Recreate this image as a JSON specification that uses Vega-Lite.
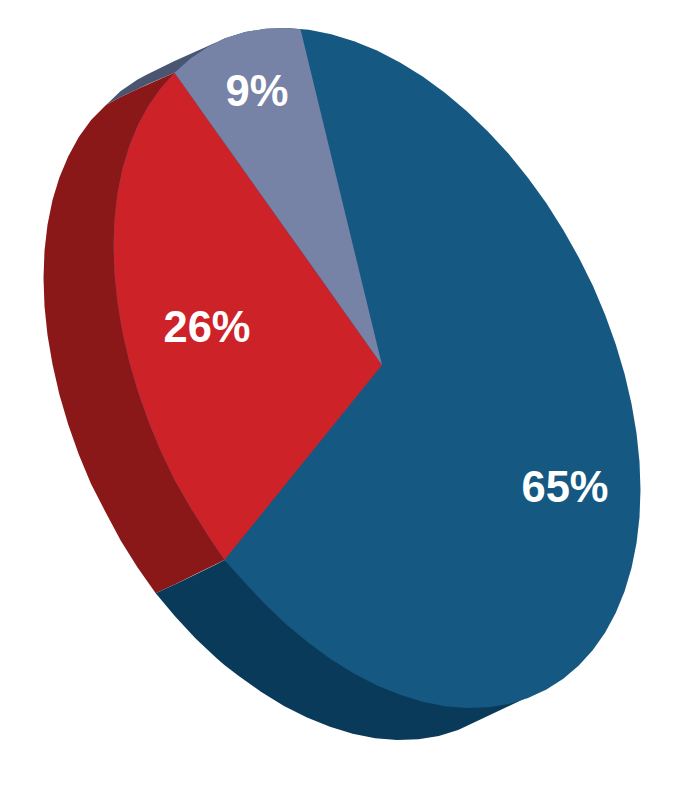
{"$schema":"https://vega.github.io/schema/vega-lite/v6.json","width":674,"height":800,"padding":0,"autosize":"none","background":"white","config":{"view":{"stroke":null}},"datasets":{
"sideGray":[{"x":106,"y":105,"y2":105},{"x":120.7,"y":91,"y2":97},{"x":137.6,"y":79.5,"y2":89},{"x":147,"y":74.5,"y2":84.5},{"x":174.5,"y":61,"y2":72.7},{"x":217,"y":42,"y2":42}],
"sideRed":[{"x":43.5,"y":278,"y2":278},{"x":44.5,"y":250.8,"y2":306.2},{"x":47.5,"y":224.8,"y2":335},{"x":52.5,"y":200.1,"y2":364.3},{"x":59.4,"y":177.5,"y2":394.5},{"x":68.2,"y":156.5,"y2":424.5},{"x":78.8,"y":137,"y2":454.5},{"x":91.1,"y":120,"y2":484},{"x":106,"y":105,"y2":513},{"x":120.7,"y":97,"y2":540.5},{"x":137.6,"y":89,"y2":567.5},{"x":155.7,"y":81,"y2":593.3},{"x":174.5,"y":72.7,"y2":584.5},{"x":224.4,"y":300,"y2":560}],
"sideBlue":[{"x":155.7,"y":593.3,"y2":593.3},{"x":175.2,"y":584.3,"y2":616.5},{"x":195.6,"y":574.5,"y2":638.5},{"x":216.9,"y":564,"y2":658.5},{"x":224.4,"y":560,"y2":665},{"x":238.8,"y":565,"y2":676},{"x":261.3,"y":574,"y2":692},{"x":284,"y":584,"y2":706},{"x":307,"y":594,"y2":717.6},{"x":330,"y":604,"y2":726.8},{"x":352.7,"y":614,"y2":733.8},{"x":375.2,"y":623.2,"y2":738.2},{"x":397.1,"y":632.8,"y2":740},{"x":418.4,"y":642.1,"y2":739.3},{"x":438.8,"y":651,"y2":735.9},{"x":458.1,"y":659.5,"y2":730},{"x":466.6,"y":663.2,"y2":726},{"x":530,"y":696,"y2":696}],
"faceBlue":[{"x":113.5,"y":246,"y2":246},{"x":114.5,"y":218.8,"y2":274.2},{"x":117.5,"y":192.8,"y2":303},{"x":122.5,"y":168.6,"y2":332.8},{"x":129.4,"y":145.5,"y2":362.5},{"x":138.2,"y":124.3,"y2":392.5},{"x":148.8,"y":105,"y2":422.5},{"x":161.1,"y":87.8,"y2":452},{"x":174.5,"y":72.7,"y2":480},{"x":190.7,"y":58.3,"y2":508},{"x":207.6,"y":47,"y2":535},{"x":224.4,"y":38.5,"y2":560},{"x":245.2,"y":32.1,"y2":583},{"x":265.6,"y":28.7,"y2":604.8},{"x":286.9,"y":28,"y2":625},{"x":308.8,"y":29.8,"y2":643},{"x":331.3,"y":34.2,"y2":659.4},{"x":354,"y":41.2,"y2":673.6},{"x":377,"y":50.6,"y2":685.4},{"x":400,"y":62.4,"y2":694.8},{"x":422.7,"y":76.6,"y2":701.8},{"x":445.2,"y":93,"y2":706.2},{"x":467.1,"y":111.4,"y2":708},{"x":488.4,"y":131.9,"y2":707.3},{"x":508.8,"y":154.1,"y2":703.9},{"x":528.1,"y":178,"y2":698},{"x":546.4,"y":203.3,"y2":689.5},{"x":563.3,"y":229.9,"y2":678.7},{"x":578.8,"y":257.5,"y2":665.5},{"x":592.9,"y":285.8,"y2":650},{"x":605.2,"y":315,"y2":632.4},{"x":615.8,"y":344.5,"y2":612.7},{"x":624.6,"y":374,"y2":591.2},{"x":631.5,"y":403.7,"y2":567.9},{"x":636.5,"y":433,"y2":543.2},{"x":639.5,"y":461.8,"y2":517.2},{"x":640.5,"y":490,"y2":490}],
"faceRed":[{"x":113.5,"y":246,"y2":246},{"x":114.5,"y":218.8,"y2":274.2},{"x":117.5,"y":192.8,"y2":303},{"x":122.5,"y":168.6,"y2":332.8},{"x":129.4,"y":145.5,"y2":362.5},{"x":138.2,"y":124.3,"y2":392.5},{"x":148.8,"y":105,"y2":422.5},{"x":161.1,"y":87.8,"y2":452},{"x":174.5,"y":72.7,"y2":480},{"x":190.7,"y":95.5,"y2":508},{"x":207.6,"y":119.4,"y2":535},{"x":224.4,"y":143,"y2":560},{"x":382,"y":365,"y2":365}],
"faceGray":[{"x":174.5,"y":72.7,"y2":72.7},{"x":190.7,"y":58.3,"y2":95.5},{"x":207.6,"y":47,"y2":119.4},{"x":224.4,"y":38.5,"y2":143},{"x":245.2,"y":32.1,"y2":172.3},{"x":265.6,"y":28.7,"y2":201},{"x":286.9,"y":28,"y2":231},{"x":300.5,"y":29.2,"y2":250},{"x":382,"y":365,"y2":365}],
"labels":[{"label":"65%","x":565,"y":489},{"label":"26%","x":207,"y":329},{"label":"9%","x":257,"y":93}]},
"encoding":{"x":{"field":"x","type":"quantitative","scale":{"domain":[0,674],"nice":false,"zero":false},"axis":null},"y":{"field":"y","type":"quantitative","scale":{"domain":[800,0],"nice":false,"zero":false},"axis":null}},
"layer":[
{"data":{"name":"sideGray"},"mark":{"type":"area","color":"#4A5572"},"encoding":{"y2":{"field":"y2"}}},
{"data":{"name":"sideRed"},"mark":{"type":"area","color":"#8A1818"},"encoding":{"y2":{"field":"y2"}}},
{"data":{"name":"sideBlue"},"mark":{"type":"area","color":"#0A3A5A"},"encoding":{"y2":{"field":"y2"}}},
{"data":{"name":"faceBlue"},"mark":{"type":"area","color":"#155882"},"encoding":{"y2":{"field":"y2"}}},
{"data":{"name":"faceRed"},"mark":{"type":"area","color":"#CE2229"},"encoding":{"y2":{"field":"y2"}}},
{"data":{"name":"faceGray"},"mark":{"type":"area","color":"#7682A6"},"encoding":{"y2":{"field":"y2"}}},
{"data":{"name":"labels"},"mark":{"type":"text","font":"Liberation Sans","fontWeight":"bold","fontSize":43.5,"color":"white","align":"center","baseline":"middle"},"encoding":{"text":{"field":"label"}}}
]}
